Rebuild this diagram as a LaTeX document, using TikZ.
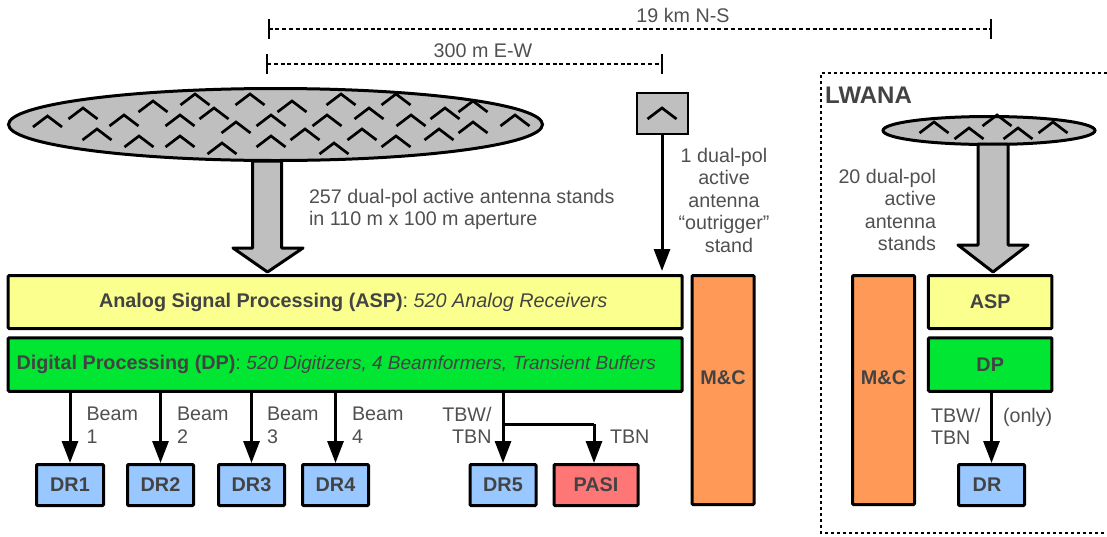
\documentclass[tikz,border=0pt]{standalone}
\usepackage{fontspec}
\setmainfont{Liberation Sans}
\usetikzlibrary{arrows.meta}
\definecolor{txt}{HTML}{505050}
\definecolor{btxt}{HTML}{434343}
\definecolor{gfill}{HTML}{BFBFBF}
\definecolor{yfill}{HTML}{FAFF8E}
\definecolor{dpfill}{HTML}{00E633}
\definecolor{mcfill}{HTML}{FF9957}
\definecolor{drfill}{HTML}{99C7FF}
\definecolor{pasifill}{HTML}{FF7676}
\tikzset{
  box/.style={draw=black,line width=3pt,inner sep=0pt,outer sep=0pt,rounded corners=1pt,
    font=\fontsize{19.8}{22.5}\selectfont\bfseries,text=btxt},
  lab/.style={inner sep=0pt,outer sep=0pt,text=txt,font=\fontsize{19.7}{22.5}\selectfont},
  flow/.style={draw=black,line width=3pt,-{Triangle[width=16pt,length=22pt]},shorten >=1.5pt},
  branch/.style={draw=black,line width=3pt},
  dimline/.style={draw=black,line width=1.5pt,dash pattern=on 4pt off 2.8pt},
  tick/.style={draw=black,line width=2pt},
  plate/.style={draw=black,line width=3pt,fill=gfill},
  chev/.style={draw=black,line width=2.7pt},
  chevron/.pic={\draw[chev] (-14.5,11) -- (0,0) -- (14.5,11);}
}
\begin{document}
\begin{tikzpicture}[x=1pt,y=-1pt]
\useasboundingbox (0,0) rectangle (1107,536);
% dimension lines
\coordinate (nsL) at (268.5,29); \coordinate (nsR) at (991,29);
\coordinate (ewL) at (267,64); \coordinate (ewR) at (662.3,64);
\draw[dimline] (nsL) -- (nsR);
\draw[dimline] (ewL) -- (ewR);
\draw[tick] (268.5,19) -- (268.5,39);
\draw[tick] (991,19) -- (991,39);
\draw[tick] (267,54) -- (267,74);
\draw[tick] (662.3,54) -- (662.3,74);
\node[lab,anchor=base] (nslabel) at (683,22) {19 km N-S};
\node[lab,anchor=base] (ewlabel) at (483,57) {300 m E-W};
% main array
\draw[plate] (275.5,124.5) ellipse [x radius=267,y radius=36];
\foreach \x/\y in {47.5/116,83/108,124/115,153/101,195/94,250/94,292/101,341/94,396/94,473/101,445/108,369/108,411/115,515/115,327/115,271/115,214/108,180/115,236/122,97/129,139/136,180/136,222/143,271/136,305/129,334/143,362/129,396/136,439/129,473/122}
  \pic at (\x,\y) {chevron};
\draw[plate,line join=round] (252.5,161) -- (252.5,248) -- (233,248) -- (267.5,272) -- (303,248) -- (281.7,248) -- (281.7,161) -- cycle;
% main blocks
\node[box,fill=yfill,minimum width=674pt,minimum height=53pt] (asp) at (345.2,302)
  {\hspace*{16pt}Analog Signal Processing (ASP)\textmd{: \itshape 520 Analog Receivers}};
\node[box,fill=dpfill,minimum width=674pt,minimum height=53.5pt] (dp) at (345.2,364.5)
  {Digital Processing (DP)\textmd{: \fontsize{19}{22.5}\selectfont\itshape 520 Digitizers, 4 Beamformers, Transient Buffers}\hspace*{18pt}};
\node[box,fill=mcfill,minimum width=62pt,minimum height=229pt] (mc) at (723,390) {\raisebox{24pt}{M\&C}};
% outrigger
\node[draw=black,line width=2pt,fill=gfill,minimum width=51pt,minimum height=41pt,inner sep=0pt,outer sep=0pt] (out) at (662.5,113.5) {};
\pic at (662,108) {chevron};
\coordinate (aspin) at (662,271);
\draw[flow,shorten >=0pt] (out.south -| aspin) -- (aspin);
% recorders
\node[box,fill=drfill,minimum width=67pt,minimum height=41pt] (dr1) at (70,485) {DR1};
\node[box,fill=drfill,minimum width=66pt,minimum height=41pt] (dr2) at (160.5,485) {DR2};
\node[box,fill=drfill,minimum width=66pt,minimum height=41pt] (dr3) at (251.5,485) {DR3};
\node[box,fill=drfill,minimum width=66pt,minimum height=41pt] (dr4) at (335.5,485) {DR4};
\node[box,fill=drfill,minimum width=66pt,minimum height=41pt] (dr5) at (503,485) {DR5};
\node[box,fill=pasifill,minimum width=84pt,minimum height=41pt] (pasi) at (596,485) {PASI};
\draw[flow] (dp.south -| dr1.north) -- (dr1.north);
\draw[flow] (dp.south -| dr2.north) -- (dr2.north);
\draw[flow] (dp.south -| dr3.north) -- (dr3.north);
\draw[flow] (dp.south -| dr4.north) -- (dr4.north);
\draw[flow] (dp.south -| dr5.north) -- (dr5.north);
\coordinate (tap) at (503,424);
\coordinate (drop) at (594,424);
\draw[branch] (tap) -- (drop);
\draw[flow] (drop) -- (drop |- pasi.north);
% labels
\node[lab,align=left,anchor=north west] (l257) at (309,189) {257 dual-pol active antenna stands\\in 110 m x 100 m aperture};
\node[lab,align=center,anchor=north] (l1) at (724,148) {1 dual-pol\\active\hspace*{6pt}\\antenna\\“outrigger”\\\hspace*{10pt}stand};
\node[lab,align=left,anchor=north west] (b1) at (86.5,407) {Beam\\1};
\node[lab,align=left,anchor=north west] (b2) at (177,407) {Beam\\2};
\node[lab,align=left,anchor=north west] (b3) at (267,407) {Beam\\3};
\node[lab,align=left,anchor=north west] (b4) at (352,407) {Beam\\4};
\node[lab,align=right,anchor=north east] (tbw) at (491.5,407) {TBW/\\TBN};
\node[lab,anchor=base west] (tbn) at (610,443) {TBN};
% LWANA
\draw[line width=1.8pt,dash pattern=on 3pt off 3pt] (1107,73) -- (821,73) -- (821,533) -- (1107,533);
\node[inner sep=0pt,text=btxt,font=\fontsize{24}{26}\selectfont\bfseries,anchor=base west] (lwana) at (825,103) {LWANA};
\draw[plate] (989,130.5) ellipse [x radius=106,y radius=14];
\foreach \x/\y in {934/122,969/128,997/115,1018/128,1053/122}
  \pic at (\x,\y) {chevron};
\draw[plate,line join=round] (978,144) -- (978,245) -- (958,245) -- (993,272) -- (1028,245) -- (1008,245) -- (1008,144) -- cycle;
\node[box,fill=mcfill,minimum width=62pt,minimum height=229pt] (mc2) at (883.5,390) {\raisebox{24pt}{M\&C}};
\node[box,fill=yfill,minimum width=123.5pt,minimum height=53pt] (asp2) at (990.2,302) {ASP};
\node[box,fill=dpfill,minimum width=123.5pt,minimum height=53.5pt] (dp2) at (990.2,364.5) {DP};
\node[box,fill=drfill,minimum width=66pt,minimum height=41pt] (dr) at (991.5,485) {DR\hspace*{9pt}};
\draw[flow] (dp2.south -| dr.north) -- (dr.north);
\node[lab,align=right,anchor=north east] (l20) at (936,169) {20 dual-pol\\active\\antenna\\stands};
\node[lab,align=left,anchor=north west] (tbw2) at (931,408) {TBW/\\TBN};
\node[lab,anchor=base west] (only) at (1003,422) {(only)};
\end{tikzpicture}
\end{document}
